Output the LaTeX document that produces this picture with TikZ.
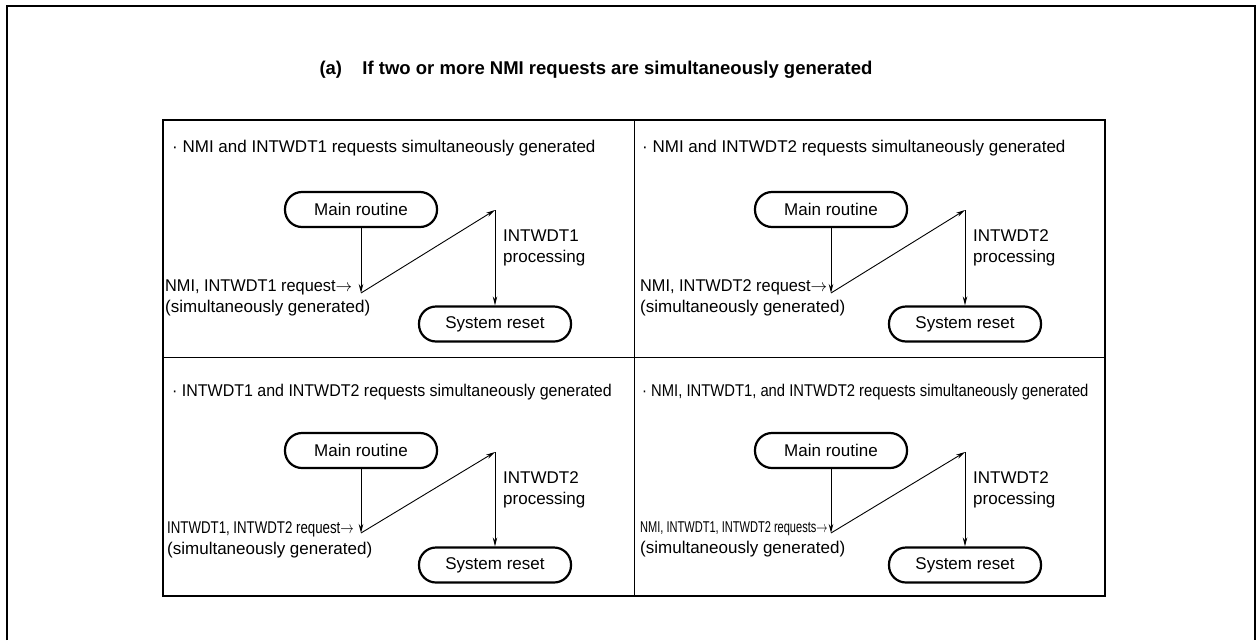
\documentclass[tikz,border=0pt]{standalone}
\usepackage{fontspec}
\setmainfont{Liberation Sans}
\usetikzlibrary{positioning,arrows.meta}

\begin{document}
\begin{tikzpicture}[x=1pt, y=-1pt,
    every node/.style={font=\fontsize{17}{21}\selectfont},
    routine/.style={draw, line width=2.2pt, rounded corners=17pt, minimum width=152pt, minimum height=35pt, inner sep=0pt},
    flow/.style={-{Stealth[length=9pt,width=4.5pt]}, line width=0.9pt},
    note/.style={align=left, anchor=west, inner sep=0pt}]
  \useasboundingbox (0,0) rectangle (1257,640);
  % outer frame, open at the bottom
  \draw[line width=2.5pt] (7,640) -- (7,6) -- (1255,6) -- (1255,640);
  \node[font=\fontsize{18.5}{22}\selectfont\bfseries, anchor=west] (title) at (316,70) {(a)\hspace{1.1em}If two or more NMI requests are simultaneously generated};
  % table
  \draw[line width=2.5pt] (163,120) rectangle (1105,596);
  \draw[line width=0.8pt] (634,120) -- (634,596);
  \draw[line width=0.8pt] (163,357) -- (1105,357);

  % NMI + INTWDT1
  \node[note] (hdA) at (172,148) {· NMI and INTWDT1 requests simultaneously generated};
  \node[routine] (mainA) at (361,209.5) {Main routine};
  \node[routine] (resetA) at (495,324) {System reset};
  \coordinate (reqA) at (361,293);
  \coordinate (topA) at (495,210);
  \node[note] (whyA) at (165,297.5) {\scalebox{0.96}[1]{NMI, INTWDT1 request$\rightarrow$}\\(simultaneously generated)};
  \node[note] (procA) at (503,247.5) {INTWDT1\\processing};
  \draw[flow] (mainA) -- (reqA);
  \draw[flow] (reqA) -- (topA);
  \draw[flow] (topA) -- (resetA);

  % NMI + INTWDT2
  \node[note] (hdB) at (642,148) {· NMI and INTWDT2 requests simultaneously generated};
  \node[routine] (mainB) at (831,209.5) {Main routine};
  \node[routine] (resetB) at (965,324) {System reset};
  \coordinate (reqB) at (831,293);
  \coordinate (topB) at (965,210);
  \node[note] (whyB) at (640,297.5) {\scalebox{0.96}[1]{NMI, INTWDT2 request$\rightarrow$}\\(simultaneously generated)};
  \node[note] (procB) at (973,247.5) {INTWDT2\\processing};
  \draw[flow] (mainB) -- (reqB);
  \draw[flow] (reqB) -- (topB);
  \draw[flow] (topB) -- (resetB);

  % INTWDT1 + INTWDT2
  \node[note] (hdC) at (172,392) {\scalebox{0.94}[1]{· INTWDT1 and INTWDT2 requests simultaneously generated}};
  \node[routine] (mainC) at (361,450.5) {Main routine};
  \node[routine] (resetC) at (495,565) {System reset};
  \coordinate (reqC) at (361,533);
  \coordinate (topC) at (495,452);
  \node[note] (whyC) at (167,539.5) {\scalebox{0.78}[1]{INTWDT1, INTWDT2 request$\rightarrow$}\\(simultaneously generated)};
  \node[note] (procC) at (503,490) {INTWDT2\\processing};
  \draw[flow] (mainC) -- (reqC);
  \draw[flow] (reqC) -- (topC);
  \draw[flow] (topC) -- (resetC);

  % NMI + INTWDT1 + INTWDT2
  \node[note] (hdD) at (642,392) {\scalebox{0.87}[1]{· NMI, INTWDT1, and INTWDT2 requests simultaneously generated}};
  \node[routine] (mainD) at (831,450.5) {Main routine};
  \node[routine] (resetD) at (965,565) {System reset};
  \coordinate (reqD) at (831,533);
  \coordinate (topD) at (965,452);
  \node[note] (whyD) at (640,539.5) {\scalebox{0.65}[0.92]{NMI, INTWDT1, INTWDT2 requests$\rightarrow$}\\(simultaneously generated)};
  \node[note] (procD) at (973,490) {INTWDT2\\processing};
  \draw[flow] (mainD) -- (reqD);
  \draw[flow] (reqD) -- (topD);
  \draw[flow] (topD) -- (resetD);
\end{tikzpicture}
\end{document}
